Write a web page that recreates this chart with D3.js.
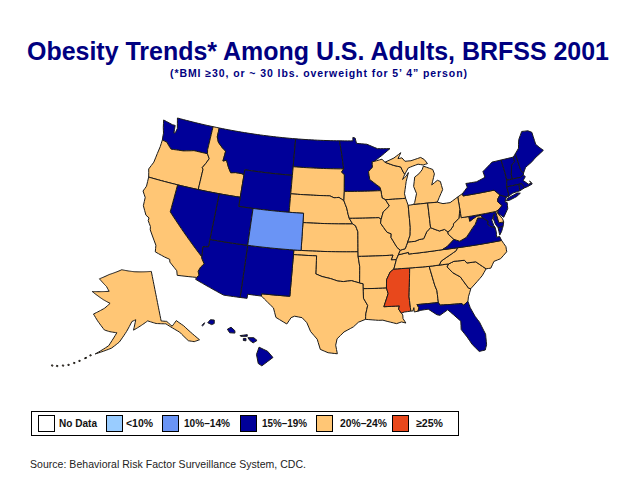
<![CDATA[<!DOCTYPE html>
<html>
<head>
<meta charset="utf-8">
<script src="https://cdnjs.cloudflare.com/ajax/libs/d3/7.8.5/d3.min.js"></script>
<style>
  html, body { margin: 0; padding: 0; background: #fff; }
  svg { display: block; }
</style>
</head>
<body>
<script>
// legend bands
const legendLabels = ["No Data", "<10%", "10%\u201314%", "15%\u201319%", "20%\u201324%", "\u226525%"];
const legendColors = ["#ffffff", "#99ccff", "#6a94f5", "#000099", "#ffc675", "#e8481c"];

// which band each state falls in (everything else is 20-24)
const band10to14 = ["CO"];
const band15to19 = ["WA", "MT", "ND", "MN", "WY", "NV", "UT", "AZ", "NM", "NY", "VT", "NH", "ME", "MA", "CT", "RI", "NJ", "MD", "VA", "FL", "HI"];
const band25up = ["MS"];

// state outlines, lon/lat rings read off the map
const WA = [[[-124.7,48.38],[-123.2,48.15],[-122.75,48.15],[-122.6,47.3],[-122.4,47.4],[-122.3,47.9],[-122.5,48.4],[-122.75,49],[-117.03,49],[-117.04,46.42],[-116.92,45.99],[-118.98,46],[-119.3,45.93],[-120.5,45.7],[-121.2,45.65],[-122.3,45.55],[-122.8,45.85],[-123.2,46.15],[-123.95,46.25],[-124.05,46.7],[-124.1,47],[-124.4,47.6]]];
const OR = [[[-123.95,46.25],[-123.2,46.15],[-122.8,45.85],[-122.3,45.55],[-121.2,45.65],[-120.5,45.7],[-119.3,45.93],[-118.98,46],[-116.92,45.99],[-116.5,45.5],[-116.85,44.9],[-117.2,44.4],[-117.03,44.25],[-117.03,42],[-124.2,42],[-124.4,42.5],[-124.55,42.84],[-124.15,43.7],[-124.05,44.7],[-123.95,45.5]]];
const ID = [[[-117.03,49],[-116.05,49],[-116.05,48],[-115.7,47.45],[-114.95,46.95],[-114.35,46.65],[-114.45,45.55],[-113.95,45.7],[-113.45,44.95],[-113,44.45],[-112.3,44.55],[-111.5,44.55],[-111.05,44.48],[-111.05,42],[-117.03,42],[-117.03,44.25],[-117.2,44.4],[-116.85,44.9],[-116.5,45.5],[-116.92,45.99],[-117.04,46.42]]];
const MT = [[[-116.05,49],[-104.05,49],[-104.05,45],[-111.05,45],[-111.05,44.48],[-111.5,44.55],[-112.3,44.55],[-113,44.45],[-113.45,44.95],[-113.95,45.7],[-114.45,45.55],[-114.35,46.65],[-114.95,46.95],[-115.7,47.45],[-116.05,48]]];
const WY = [[[-111.05,45],[-104.05,45],[-104.05,41],[-111.05,41]]];
const ND = [[[-104.05,49],[-97.23,49],[-96.85,47.5],[-96.56,45.94],[-104.05,45.94]]];
const SD = [[[-104.05,45.94],[-96.56,45.94],[-96.85,45.6],[-96.45,45.3],[-96.45,43.5],[-96.5,42.5],[-97.2,42.85],[-97.9,42.8],[-98.5,43],[-104.05,43]]];
const NE = [[[-104.05,43],[-98.5,43],[-97.9,42.8],[-97.2,42.85],[-96.5,42.5],[-96.1,41.7],[-95.9,41],[-95.75,40.6],[-95.3,40],[-102.05,40],[-102.05,41],[-104.05,41]]];
const KS = [[[-102.05,40],[-95.3,40],[-94.9,39.8],[-94.6,39.15],[-94.62,37],[-102.05,37]]];
const OK = [[[-103,37],[-94.62,37],[-94.62,36.5],[-94.43,35.4],[-94.48,33.64],[-95.5,33.9],[-96.5,33.8],[-97.2,33.85],[-98.1,34.1],[-99.2,34.3],[-100,34.56],[-100,36.5],[-103,36.5]]];
const TX = [[[-103,36.5],[-100,36.5],[-100,34.56],[-99.2,34.3],[-98.1,34.1],[-97.2,33.85],[-96.5,33.8],[-95.5,33.9],[-94.48,33.64],[-94.04,33.55],[-94.04,33.02],[-94.04,31.99],[-93.55,31.2],[-93.8,30.3],[-93.85,29.7],[-94.7,29.4],[-95.3,28.9],[-96.4,28.35],[-97.2,27.6],[-97.35,26.9],[-97.15,25.96],[-98.2,26.06],[-99.1,26.4],[-99.5,27.5],[-100.3,28.3],[-100.8,29.25],[-101.4,29.77],[-102.3,29.88],[-102.7,29.7],[-103.15,28.98],[-104.5,29.6],[-104.9,30.6],[-106.5,31.75],[-106.5,32],[-103.05,32]]];
const NM = [[[-109.05,37],[-103,37],[-103,36.5],[-103.05,32],[-106.5,32],[-106.5,31.75],[-108.2,31.78],[-108.2,31.33],[-109.05,31.33]]];
const AZ = [[[-114.04,37],[-109.05,37],[-109.05,31.33],[-111.07,31.33],[-114.8,32.5],[-114.72,32.72],[-114.5,33],[-114.7,33.4],[-114.5,33.9],[-114.15,34.3],[-114.6,34.85],[-114.63,35],[-114.75,36.1],[-114.04,36.2]]];
const UT = [[[-114.04,42],[-111.05,42],[-111.05,41],[-109.05,41],[-109.05,37],[-114.04,37]]];
const CO = [[[-109.05,41],[-102.05,41],[-102.05,37],[-109.05,37]]];
const NV = [[[-120,42],[-114.04,42],[-114.04,36.2],[-114.75,36.1],[-114.63,35],[-120,39]]];
const CA = [[[-124.2,42],[-120,42],[-120,39],[-114.63,35],[-114.6,34.85],[-114.15,34.3],[-114.5,33.9],[-114.7,33.4],[-114.5,33],[-114.72,32.72],[-117.12,32.53],[-117.3,33],[-118.4,33.75],[-118.5,34.03],[-119.2,34.15],[-120.5,34.45],[-120.65,35.15],[-121.9,36.6],[-122,36.95],[-122.5,37.5],[-122.5,37.8],[-123,38],[-123.7,38.9],[-123.8,39.8],[-124.35,40.4],[-124.1,41]]];
const MN = [[[-97.23,49],[-95.15,49],[-95.15,49.38],[-94.8,49.3],[-94.6,48.72],[-93,48.6],[-91.4,48.07],[-89.5,48],[-90.8,47.3],[-92,46.7],[-92.3,46.66],[-92.29,46.07],[-92.9,45.6],[-92.75,44.75],[-91.3,43.85],[-91.22,43.5],[-96.45,43.5],[-96.45,45.3],[-96.85,45.6],[-96.56,45.94],[-96.85,47.5]]];
const WI = [[[-92,46.7],[-90.8,46.9],[-90.4,46.55],[-89.1,46.14],[-88.1,45.92],[-87.8,45.35],[-87.6,45.1],[-88,44.55],[-87.4,44.9],[-87.05,45.25],[-87.5,44.3],[-87.9,43],[-87.8,42.5],[-90.64,42.5],[-91.1,42.7],[-91.22,43.5],[-91.3,43.85],[-92.75,44.75],[-92.9,45.6],[-92.29,46.07],[-92.3,46.66]]];
const IA = [[[-96.45,43.5],[-91.22,43.5],[-91.1,42.7],[-90.64,42.5],[-90.15,41.8],[-91.05,41.2],[-91.4,40.4],[-91.7,40.6],[-95.75,40.6],[-95.9,41],[-96.1,41.7],[-96.5,42.5]]];
const MO = [[[-95.75,40.6],[-91.7,40.6],[-91.4,40.4],[-91.5,40],[-90.7,39],[-90.15,38.8],[-90.2,38.4],[-89.5,37.3],[-89.1,36.98],[-89.4,36.5],[-89.7,36],[-90.37,36],[-90.1,36.5],[-94.62,36.5],[-94.62,37],[-94.6,39.15],[-94.9,39.8],[-95.3,40]]];
const AR = [[[-94.62,36.5],[-90.1,36.5],[-90.37,36],[-89.7,36],[-90.1,35],[-90.6,34.7],[-91.1,33.9],[-91.17,33],[-94.04,33.02],[-94.04,33.55],[-94.48,33.64],[-94.43,35.4]]];
const LA = [[[-94.04,33.02],[-91.17,33],[-91,32.4],[-91.6,31],[-89.73,31],[-89.85,30.65],[-89.55,30.2],[-89.4,30],[-89.4,29.6],[-89.1,29.1],[-89.6,29.25],[-90.2,29.1],[-91.3,29.4],[-91.8,29.55],[-92.3,29.55],[-93.85,29.7],[-93.8,30.3],[-93.55,31.2],[-94.04,31.99]]];
const MS = [[[-90.1,35],[-88.2,35],[-88.1,34.9],[-88.47,31.9],[-88.4,30.35],[-89.2,30.3],[-89.55,30.2],[-89.85,30.65],[-89.73,31],[-91.6,31],[-91,32.4],[-91.17,33],[-91.1,33.9],[-90.6,34.7]]];
const AL = [[[-88.2,35],[-85.6,34.98],[-85.18,32.87],[-85,32.3],[-85,31],[-87.6,31],[-87.4,30.65],[-87.55,30.28],[-88,30.23],[-88,30.7],[-88.15,30.35],[-88.4,30.35],[-88.47,31.9],[-88.1,34.9]]];
const GA = [[[-85.6,34.98],[-83.1,35],[-83.35,34.7],[-82.75,34],[-81.9,33.45],[-81.4,32.6],[-81.1,32.1],[-80.85,32.03],[-81.3,31.2],[-81.45,30.72],[-82.05,30.36],[-82.2,30.57],[-84.86,30.7],[-85,31],[-85,32.3],[-85.18,32.87]]];
const FL = [[[-87.6,31],[-85,31],[-84.86,30.7],[-82.2,30.57],[-82.05,30.36],[-81.45,30.72],[-81.3,30],[-80.9,29],[-80.5,28.3],[-80.05,26.9],[-80.15,25.75],[-80.4,25.2],[-81.1,25.15],[-81.75,26],[-82.2,26.9],[-82.75,27.8],[-82.65,28.7],[-83.4,29.5],[-84,30.1],[-85,29.6],[-85.35,29.7],[-86.3,30.4],[-87.2,30.35],[-87.55,30.28],[-87.4,30.65]]];
const SC = [[[-83.1,35],[-82.4,35.2],[-81.05,35.15],[-80.8,34.82],[-79.67,34.8],[-78.55,33.87],[-79.2,33.2],[-79.9,32.7],[-80.85,32.03],[-81.1,32.1],[-81.4,32.6],[-81.9,33.45],[-82.75,34],[-83.35,34.7]]];
const NC = [[[-84.32,35],[-83.1,35],[-82.4,35.2],[-81.05,35.15],[-80.8,34.82],[-79.67,34.8],[-78.55,33.87],[-77.95,33.85],[-77.4,34.5],[-76.5,34.65],[-75.55,35.25],[-75.5,35.8],[-75.87,36.55],[-81.68,36.59],[-81.9,36.3],[-82.6,36],[-83.2,35.75],[-84,35.4]]];
const TN = [[[-90.1,35],[-88.2,35],[-85.6,34.98],[-84.32,35],[-84,35.4],[-83.2,35.75],[-82.6,36],[-81.9,36.3],[-81.68,36.59],[-83.68,36.6],[-88.07,36.5],[-88.07,36.68],[-89.4,36.5],[-89.7,36]]];
const KY = [[[-89.4,36.5],[-88.07,36.68],[-88.07,36.5],[-83.68,36.6],[-83,36.85],[-82,37.5],[-81.97,37.54],[-82.6,38.17],[-82.6,38.42],[-83,38.73],[-83.7,38.63],[-84.25,38.85],[-84.82,39.1],[-85.4,38.7],[-85.9,38],[-86.5,37.95],[-87.1,37.8],[-88.05,37.8],[-88.45,37.1],[-89.1,36.98]]];
const VA = [[[-83.68,36.6],[-81.68,36.59],[-75.87,36.55],[-76,37],[-76.4,37],[-76.3,37.6],[-76.33,38.05],[-77,38.3],[-77.2,38.6],[-77.05,38.85],[-77.7,39.32],[-78.35,39.4],[-78.85,38.77],[-79.3,38.42],[-80.3,37.55],[-81.25,37.25],[-81.97,37.54],[-82,37.5],[-83,36.85]],
  [[-75.95,37.95],[-75.25,38.03],[-75.6,37.5],[-75.95,37.15]]];
const WV = [[[-81.97,37.54],[-81.25,37.25],[-80.3,37.55],[-79.3,38.42],[-78.85,38.77],[-78.35,39.4],[-77.7,39.32],[-77.83,39.6],[-78.4,39.62],[-79.48,39.2],[-79.48,39.72],[-80.52,39.72],[-80.52,40.64],[-80.85,39.7],[-81.7,39.2],[-81.75,39],[-82.2,38.6],[-82.6,38.42],[-82.6,38.17]]];
const MD = [[[-79.48,39.72],[-75.79,39.72],[-75.7,38.46],[-75.05,38.45],[-75.25,38.03],[-75.95,37.95],[-76.2,38.4],[-76.3,39],[-76.05,39.5],[-76.55,38.9],[-76.45,38.3],[-76.33,38.05],[-77,38.3],[-77.2,38.6],[-77.05,38.85],[-77.7,39.32],[-77.83,39.6],[-78.4,39.62],[-79.48,39.2]]];
const DE = [[[-75.79,39.72],[-75.42,39.8],[-75.55,39.45],[-75.1,38.8],[-75.05,38.45],[-75.7,38.46]]];
const PA = [[[-80.52,41.98],[-79.76,42.27],[-79.76,42],[-75.35,42],[-74.7,41.36],[-75.13,40.98],[-75.2,40.68],[-74.75,40.2],[-75.42,39.8],[-75.79,39.72],[-80.52,39.72]]];
const NJ = [[[-74.7,41.36],[-73.9,41],[-74.25,40.5],[-73.98,40.4],[-74.1,39.75],[-74.9,38.93],[-75.55,39.5],[-75.42,39.8],[-74.75,40.2],[-75.2,40.68],[-75.13,40.98]]];
const NY = [[[-79.76,42.27],[-79.76,42],[-75.35,42],[-74.7,41.36],[-73.9,41],[-73.65,41],[-73.5,41.3],[-73.5,42.05],[-73.27,42.75],[-73.25,43.6],[-73.35,45.01],[-74.7,45],[-76.3,44.2],[-76.2,43.55],[-77.5,43.25],[-79.05,43.27],[-78.95,42.85]],
  [[-74.03,40.6],[-73.75,40.85],[-72.3,41.15],[-71.9,41.05],[-72.5,40.8],[-73.6,40.58]]];
const VT = [[[-73.35,45.01],[-71.5,45.01],[-71.5,44.5],[-72.05,44.2],[-72.45,43.2],[-72.46,42.73],[-73.27,42.75],[-73.25,43.6]]];
const NH = [[[-71.5,45.01],[-71.08,45.3],[-70.98,43.4],[-70.7,43.07],[-70.82,42.87],[-71.3,42.7],[-72.46,42.73],[-72.45,43.2],[-72.05,44.2],[-71.5,44.5]]];
const ME = [[[-71.08,45.3],[-70.4,45.8],[-70.25,46.2],[-70,46.7],[-69.23,47.46],[-68.3,47.35],[-67.8,47.07],[-67.8,45.7],[-67.45,45.3],[-67,44.85],[-68.5,44.3],[-69.1,44],[-70.2,43.6],[-70.7,43.07],[-70.98,43.4]]];
const MA = [[[-73.5,42.05],[-73.27,42.75],[-72.46,42.73],[-71.3,42.7],[-70.82,42.87],[-70.6,42.65],[-71.05,42.3],[-70.65,41.95],[-70.5,41.78],[-70,41.8],[-70.2,42.07],[-69.95,41.7],[-70.65,41.55],[-71.13,41.5],[-71.38,42.02],[-71.8,42.02]]];
const RI = [[[-71.8,42.02],[-71.38,42.02],[-71.13,41.5],[-71.85,41.32]]];
const CT = [[[-73.5,42.05],[-71.8,42.02],[-71.85,41.32],[-72.9,41.25],[-73.65,41],[-73.5,41.3]]];
const MI = [[[-86.8,41.76],[-84.8,41.76],[-83.45,41.73],[-83.1,42.2],[-82.45,43],[-82.6,43.9],[-83,44.07],[-83.9,43.65],[-83.3,44.8],[-83.45,45.3],[-84.75,45.78],[-85,45.4],[-85.55,45],[-86.2,44.7],[-86.5,43.7],[-86.2,42.9],[-86.6,41.95]],
  [[-90.4,46.55],[-89.1,46.14],[-88.1,45.92],[-87.8,45.35],[-87.6,45.1],[-87,45.75],[-86.3,45.9],[-85.5,46.05],[-84.75,45.9],[-84.1,46],[-84.5,46.48],[-85,46.75],[-86.5,46.5],[-87.4,46.5],[-87.8,46.9],[-88.4,46.85],[-87.9,47.47],[-89,46.95]]];
const IL = [[[-90.64,42.5],[-87.8,42.5],[-87.53,41.72],[-87.53,39.35],[-87.65,38.5],[-88.05,37.8],[-88.45,37.1],[-89.1,36.98],[-89.5,37.3],[-90.2,38.4],[-90.15,38.8],[-90.7,39],[-91.5,40],[-91.4,40.4],[-91.05,41.2],[-90.15,41.8]]];
const IN = [[[-87.53,41.72],[-86.8,41.76],[-84.8,41.76],[-84.82,39.1],[-85.4,38.7],[-85.9,38],[-86.5,37.95],[-87.1,37.8],[-88.05,37.8],[-87.65,38.5],[-87.53,39.35]]];
const OH = [[[-84.8,41.76],[-83.45,41.73],[-82.7,41.5],[-81.7,41.5],[-80.52,41.98],[-80.52,40.64],[-80.85,39.7],[-81.7,39.2],[-81.75,39],[-82.2,38.6],[-82.6,38.42],[-83,38.73],[-83.7,38.63],[-84.25,38.85],[-84.82,39.1]]];
const AK = [[[-141,69.65],[-141,60.3],[-139,60],[-137.5,58.9],[-135.5,59.7],[-133.5,58.4],[-131,56],[-130,55],[-131.8,55],[-133.5,55.5],[-135.5,57.5],[-137,58.3],[-139.5,59.6],[-143,60],[-146,60.7],[-148.5,60],[-151.5,59.2],[-150.5,61.1],[-152,60.8],[-154,59],[-156.5,57],[-159,55.8],[-164,54.4],[-160,56.2],[-157.5,58.7],[-160,58.8],[-162,59],[-165,60.5],[-167,61.6],[-163,63],[-161,64],[-164,64.5],[-169.5,65.6],[-162,66.2],[-163.5,67],[-167.5,68.2],[-163,69.3],[-156.6,70.4],[-150,70]],
  [[-165.6,53.9],[-165.2,53.9],[-165.2,54.1],[-165.6,54.1]], [[-167,53.2],[-166.5,53.3],[-166.5,53.5],[-167,53.4]], [[-168.6,52.5],[-168.2,52.5],[-168.2,52.7],[-168.6,52.7]], [[-170,51.9],[-169.6,51.9],[-169.6,52.1],[-170,52.1]], [[-171.5,51.3],[-171.1,51.3],[-171.1,51.5],[-171.5,51.5]], [[-173,50.9],[-172.6,50.9],[-172.6,51.1],[-173,51.1]], [[-174.6,50.5],[-174.2,50.5],[-174.2,50.7],[-174.6,50.7]], [[-176,50.3],[-175.6,50.3],[-175.6,50.5],[-176,50.5]]];
const HI = [[[-160.25,21.8],[-160.05,22],[-160.1,21.85],[-160.2,21.77]],
  [[-159.8,22],[-159.6,22.22],[-159.3,22.2],[-159.3,21.95],[-159.5,21.87]],
  [[-158.28,21.55],[-158,21.7],[-157.7,21.45],[-157.7,21.28],[-158.1,21.3]],
  [[-157.3,21.1],[-156.75,21.17],[-156.75,21.05],[-157.25,21.05]],
  [[-157.05,20.9],[-156.85,20.9],[-156.85,20.73],[-157.05,20.75]],
  [[-156.7,20.95],[-156.25,20.95],[-156,20.75],[-156.3,20.58],[-156.55,20.75]],
  [[-156.05,19.75],[-155.85,20.27],[-155.2,19.97],[-154.8,19.52],[-155.65,18.93],[-155.92,19.1]]];

const stateNames = ["WA","OR","ID","MT","WY","ND","SD","NE","KS","OK","TX","NM","AZ","UT","CO","NV","CA","MN","WI","IA","MO","AR","LA","MS","AL","GA","FL","SC","NC","TN","KY","VA","WV","MD","DE","PA","NJ","NY","VT","NH","ME","MA","RI","CT","MI","IL","IN","OH","AK","HI"];
const stateShapes = [WA,OR,ID,MT,WY,ND,SD,NE,KS,OK,TX,NM,AZ,UT,CO,NV,CA,MN,WI,IA,MO,AR,LA,MS,AL,GA,FL,SC,NC,TN,KY,VA,WV,MD,DE,PA,NJ,NY,VT,NH,ME,MA,RI,CT,MI,IL,IN,OH,AK,HI];

const titleText = "Obesity Trends* Among U.S. Adults, BRFSS 2001";
const subtitleText = "(*BMI \u226530, or ~ 30 lbs. overweight for 5\u2019 4\u201d person)";
const sourceText = "Source: Behavioral Risk Factor Surveillance System, CDC.";

const width = 638;
const height = 479;

const svg = d3.select("body").append("svg")
  .attr("width", width)
  .attr("height", height)
  .style("font-family", "'Liberation Sans', Arial, sans-serif");

svg.append("text")
  .attr("x", 318).attr("y", 60)
  .attr("text-anchor", "middle")
  .attr("textLength", 582)
  .attr("lengthAdjust", "spacingAndGlyphs")
  .style("font-size", "26px").style("font-weight", "bold").style("fill", "#000080")
  .text(titleText);

svg.append("text")
  .attr("x", 318.5).attr("y", 77)
  .attr("text-anchor", "middle")
  .attr("textLength", 297)
  .style("font-size", "10.5px").style("font-weight", "bold").style("fill", "#000080")
  .text(subtitleText);

// projections: lower 48 plus separate insets
const mainProjection = d3.geoAlbers().scale(528).translate([326, 236]);
const mainStretch = 1.052;
const alaskaProjection = d3.geoConicEqualArea().rotate([154, 0]).center([-2, 58.5]).parallels([55, 65]).scale(310).translate([121, 334]);
const hawaiiProjection = d3.geoConicEqualArea().rotate([157, 0]).center([0, 20.5]).parallels([19, 22]).scale(800).translate([244, 344]);

// split long edges so the straight borders follow the parallels
function densify(ring) {
  const out = [];
  ring.forEach((p, i) => {
    const q = ring[(i + 1) % ring.length];
    const n = Math.ceil(Math.max(Math.abs(q[0] - p[0]), Math.abs(q[1] - p[1])) / 0.5) || 1;
    for (let k = 0; k < n; k++) out.push([p[0] + (q[0] - p[0]) * k / n, p[1] + (q[1] - p[1]) * k / n]);
  });
  out.push(out[0]);
  return out;
}

// d3.geo wants each ring wound so its area is the small side
function asPolygon(ring) {
  const r = densify(ring);
  if (d3.geoArea({ type: "Polygon", coordinates: [r] }) > 2 * Math.PI) r.reverse();
  return [r];
}

function bandColor(name) {
  if (band10to14.includes(name)) return legendColors[2];
  if (band15to19.includes(name)) return legendColors[3];
  if (band25up.includes(name)) return legendColors[5];
  return legendColors[4];
}

function pathFor(name) {
  const projection = name === "AK" ? alaskaProjection : name === "HI" ? hawaiiProjection : mainProjection;
  return d3.geoPath(projection);
}

svg.append("g").attr("id", "states")
  .selectAll("path")
  .data(stateNames)
  .enter()
  .append("path")
  .attr("d", (d, i) => pathFor(d)({ type: "MultiPolygon", coordinates: stateShapes[i].map(asPolygon) }))
  .attr("transform", (d) => d === "AK" || d === "HI" ? null : `scale(${mainStretch},1)`)
  .attr("vector-effect", "non-scaling-stroke")
  .attr("fill", (d) => bandColor(d))
  .attr("stroke", "#1a1a1a")
  .attr("stroke-width", 1)
  .attr("stroke-linejoin", "round");

// legend
const legendSwatchX = [38, 106, 162, 240, 316, 392];
const legendTextX = [59, 126, 184, 262, 340, 416];
const legendTextWidth = [38, 27, 46, 45, 47, 27];

svg.append("rect")
  .attr("x", 31.5).attr("y", 411.5)
  .attr("width", 427).attr("height", 24)
  .attr("fill", "#fff").attr("stroke", "#000").attr("stroke-width", 1);

const legend = svg.selectAll(".legend-item")
  .data(legendLabels)
  .enter()
  .append("g")
  .attr("class", "legend-item");

legend.append("rect")
  .attr("x", (d, i) => legendSwatchX[i] + 0.5)
  .attr("y", 415.5)
  .attr("width", 16).attr("height", 16)
  .attr("fill", (d, i) => legendColors[i])
  .attr("stroke", "#000");

legend.append("text")
  .attr("x", (d, i) => legendTextX[i])
  .attr("y", 427)
  .attr("textLength", (d, i) => legendTextWidth[i])
  .attr("lengthAdjust", "spacingAndGlyphs")
  .style("font-size", "11px").style("font-weight", "bold").style("fill", "#111")
  .text((d) => d);

svg.append("text")
  .attr("x", 30).attr("y", 468)
  .attr("textLength", 276)
  .style("font-size", "10.5px").style("fill", "#222")
  .text(sourceText);
</script>
</body>
</html>
]]>
